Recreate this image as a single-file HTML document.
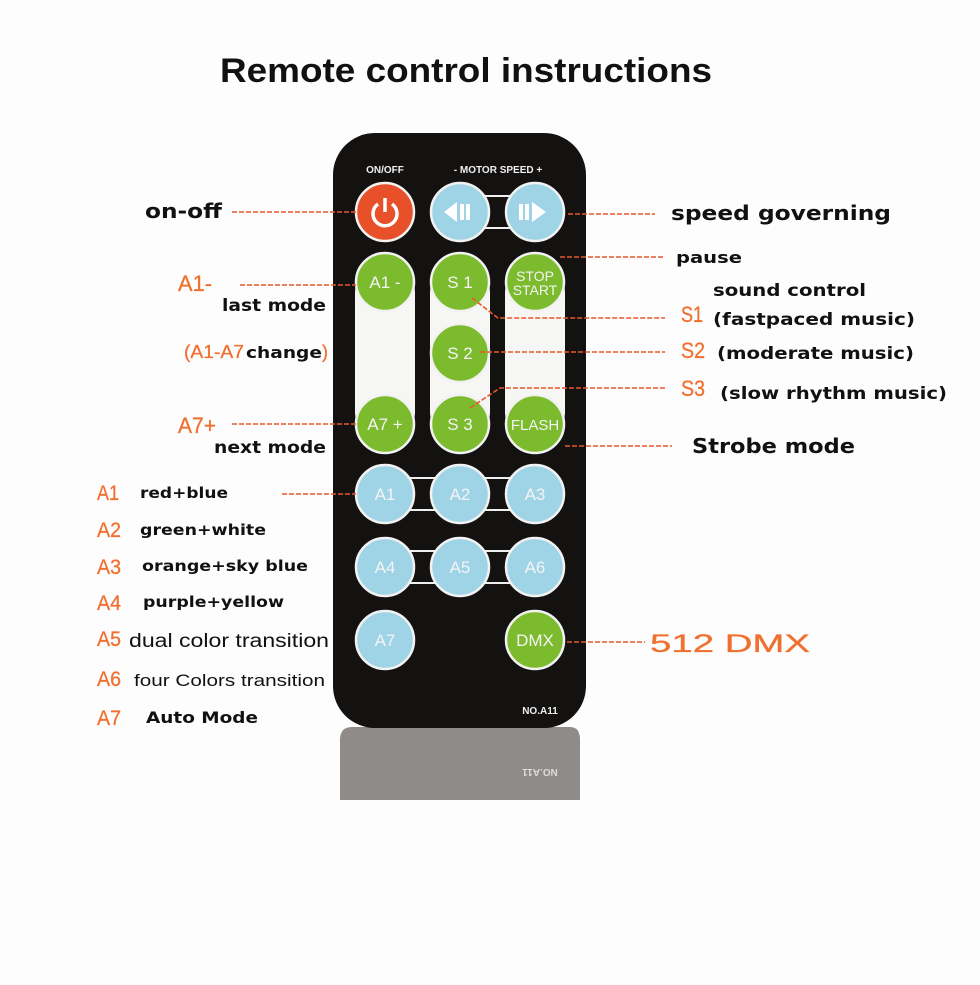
<!DOCTYPE html>
<html><head><meta charset="utf-8"><style>
html,body{margin:0;padding:0;background:#fff;}
svg{display:block}
.b{font-family:"DejaVu Sans","Liberation Sans",sans-serif;font-weight:bold;fill:#111}
.t{font-family:"Liberation Sans",sans-serif;font-weight:bold;fill:#111}
.o{font-family:"Liberation Sans",sans-serif;fill:#f07030;stroke:#f07030;stroke-width:0.3}
.n{font-family:"Liberation Sans",sans-serif;fill:#111}
.w{font-family:"Liberation Sans",sans-serif;fill:#f4f4f4;text-anchor:middle}
.d{stroke:#e8572a;stroke-width:1.6;stroke-dasharray:5 2;fill:none}
</style></head><body>
<svg width="980" height="985" viewBox="0 0 980 985" xmlns="http://www.w3.org/2000/svg">
<rect width="980" height="985" fill="#fdfdfd"/>
<text class="t" x="220" y="82" font-size="34" textLength="492" lengthAdjust="spacingAndGlyphs">Remote control instructions</text>

<path d="M352 727 H570 Q580 727 580 740 V800 H340 V740 Q340 727 352 727Z" fill="#8f8b88"/>
<text x="540" y="775" font-size="10" fill="#ddd" font-family="Liberation Sans" font-weight="bold" transform="rotate(180 540 772)" text-anchor="middle">NO.A11</text>
<rect x="333" y="133" width="253" height="595" rx="42" fill="#141211"/>
<text x="385" y="173" font-size="10" fill="#eee" font-family="Liberation Sans" font-weight="bold" text-anchor="middle">ON/OFF</text>
<text x="498" y="173" font-size="10" fill="#eee" font-family="Liberation Sans" font-weight="bold" text-anchor="middle">- MOTOR SPEED +</text>

<rect x="355" y="270" width="60" height="165" rx="22" fill="#f6f6f4"/>
<rect x="430" y="270" width="60" height="165" rx="22" fill="#f6f6f4"/>
<rect x="505" y="270" width="60" height="165" rx="22" fill="#f6f6f4"/>
<rect x="470" y="196" width="50" height="32" fill="none" stroke="#eee" stroke-width="2"/>
<rect x="400" y="478" width="120" height="32" fill="none" stroke="#eee" stroke-width="2"/>
<rect x="400" y="551" width="120" height="32" fill="none" stroke="#eee" stroke-width="2"/>

<g stroke="#f2f2f2" stroke-width="2.5">
<circle cx="385" cy="212" r="29" fill="#e8502a"/>
<circle cx="460" cy="212" r="29" fill="#9fd3e6"/>
<circle cx="535" cy="212" r="29" fill="#9fd3e6"/>
<circle cx="385" cy="282" r="29" fill="#7cbb2e"/>
<circle cx="460" cy="282" r="29" fill="#7cbb2e"/>
<circle cx="535" cy="282" r="29" fill="#7cbb2e"/>
<circle cx="460" cy="353" r="29" fill="#7cbb2e"/>
<circle cx="385" cy="424" r="29" fill="#7cbb2e"/>
<circle cx="460" cy="424" r="29" fill="#7cbb2e"/>
<circle cx="535" cy="424" r="29" fill="#7cbb2e"/>
<circle cx="385" cy="494" r="29" fill="#9fd3e6"/>
<circle cx="460" cy="494" r="29" fill="#9fd3e6"/>
<circle cx="535" cy="494" r="29" fill="#9fd3e6"/>
<circle cx="385" cy="567" r="29" fill="#9fd3e6"/>
<circle cx="460" cy="567" r="29" fill="#9fd3e6"/>
<circle cx="535" cy="567" r="29" fill="#9fd3e6"/>
<circle cx="385" cy="640" r="29" fill="#9fd3e6"/>
<circle cx="535" cy="640" r="29" fill="#7cbb2e"/>
</g>
<path d="M378 204 A12 12 0 1 0 392 204" stroke="#fff" stroke-width="3.5" fill="none"/>
<line x1="385" y1="198" x2="385" y2="212" stroke="#fff" stroke-width="3.5"/>
<path d="M444 212 L457 202 V222Z" fill="#fff"/><rect x="460" y="204" width="4" height="16" fill="#fff"/><rect x="466" y="204" width="4" height="16" fill="#fff"/>
<rect x="519" y="204" width="4" height="16" fill="#fff"/><rect x="525" y="204" width="4" height="16" fill="#fff"/><path d="M532 202 L546 212 L532 222Z" fill="#fff"/>

<g font-size="17">
<text class="w" x="385" y="288">A1 -</text>
<text class="w" x="460" y="288">S 1</text>
<text class="w" x="535" y="281" font-size="14">STOP</text>
<text class="w" x="535" y="295" font-size="14">START</text>
<text class="w" x="460" y="359">S 2</text>
<text class="w" x="385" y="430">A7 +</text>
<text class="w" x="460" y="430">S 3</text>
<text class="w" x="535" y="430" font-size="15">FLASH</text>
<text class="w" x="385" y="500">A1</text>
<text class="w" x="460" y="500">A2</text>
<text class="w" x="535" y="500">A3</text>
<text class="w" x="385" y="573">A4</text>
<text class="w" x="460" y="573">A5</text>
<text class="w" x="535" y="573">A6</text>
<text class="w" x="385" y="646">A7</text>
<text class="w" x="535" y="646">DMX</text>
</g>
<text x="540" y="714" font-size="10" fill="#eee" font-family="Liberation Sans" font-weight="bold" text-anchor="middle">NO.A11</text>

<line class="d" x1="232" y1="212" x2="356" y2="212"/>
<line class="d" x1="568" y1="214" x2="655" y2="214"/>
<line class="d" x1="560" y1="257" x2="665" y2="257"/>
<polyline class="d" points="472,298 498,318 665,318"/>
<line class="d" x1="480" y1="352" x2="665" y2="352"/>
<polyline class="d" points="470,408 500,388 665,388"/>
<line class="d" x1="565" y1="446" x2="672" y2="446"/>
<line class="d" x1="240" y1="285" x2="356" y2="285"/>
<line class="d" x1="232" y1="424" x2="356" y2="424"/>
<line class="d" x1="282" y1="494" x2="356" y2="494"/>
<line class="d" x1="567" y1="642" x2="645" y2="642"/>

<text class="b" x="145" y="218" font-size="20" textLength="77" lengthAdjust="spacingAndGlyphs">on-off</text>
<text class="b" x="671" y="220" font-size="20" textLength="220" lengthAdjust="spacingAndGlyphs">speed governing</text>
<text class="b" x="676" y="263" font-size="16" textLength="66" lengthAdjust="spacingAndGlyphs">pause</text>
<text class="b" x="713" y="296" font-size="17" textLength="153" lengthAdjust="spacingAndGlyphs">sound control</text>
<text class="o" x="681" y="322" font-size="22" textLength="22" lengthAdjust="spacingAndGlyphs">S1</text>
<text class="b" x="713" y="325" font-size="17" textLength="202" lengthAdjust="spacingAndGlyphs">(fastpaced music)</text>
<text class="o" x="681" y="358" font-size="22" textLength="24" lengthAdjust="spacingAndGlyphs">S2</text>
<text class="b" x="717" y="359" font-size="17" textLength="197" lengthAdjust="spacingAndGlyphs">(moderate music)</text>
<text class="o" x="681" y="396" font-size="22" textLength="24" lengthAdjust="spacingAndGlyphs">S3</text>
<text class="b" x="720" y="399" font-size="17" textLength="227" lengthAdjust="spacingAndGlyphs">(slow rhythm music)</text>
<text class="b" x="692" y="453" font-size="20" textLength="163" lengthAdjust="spacingAndGlyphs">Strobe mode</text>
<text class="o" x="178" y="291" font-size="22" textLength="34" lengthAdjust="spacingAndGlyphs">A1-</text>
<text class="b" x="222" y="311" font-size="17" textLength="104" lengthAdjust="spacingAndGlyphs">last mode</text>
<text class="o" x="184" y="358" font-size="18" textLength="60" lengthAdjust="spacingAndGlyphs">(A1-A7</text>
<text class="b" x="246" y="358" font-size="16" textLength="76" lengthAdjust="spacingAndGlyphs">change</text>
<text class="o" x="322" y="358" font-size="18">)</text>
<text class="o" x="178" y="433" font-size="22" textLength="38" lengthAdjust="spacingAndGlyphs">A7+</text>
<text class="b" x="214" y="453" font-size="17" textLength="112" lengthAdjust="spacingAndGlyphs">next mode</text>

<text class="o" x="97" y="500" font-size="21" textLength="22" lengthAdjust="spacingAndGlyphs">A1</text>
<text class="b" x="140" y="498" font-size="15" textLength="88" lengthAdjust="spacingAndGlyphs">red+blue</text>
<text class="o" x="97" y="537" font-size="21" textLength="24" lengthAdjust="spacingAndGlyphs">A2</text>
<text class="b" x="140" y="535" font-size="15" textLength="126" lengthAdjust="spacingAndGlyphs">green+white</text>
<text class="o" x="97" y="574" font-size="21" textLength="24" lengthAdjust="spacingAndGlyphs">A3</text>
<text class="b" x="142" y="571" font-size="15" textLength="166" lengthAdjust="spacingAndGlyphs">orange+sky blue</text>
<text class="o" x="97" y="610" font-size="21" textLength="24" lengthAdjust="spacingAndGlyphs">A4</text>
<text class="b" x="143" y="607" font-size="15" textLength="141" lengthAdjust="spacingAndGlyphs">purple+yellow</text>
<text class="o" x="97" y="646" font-size="21" textLength="24" lengthAdjust="spacingAndGlyphs">A5</text>
<text class="n" x="129" y="647" font-size="19" textLength="200" lengthAdjust="spacingAndGlyphs">dual color transition</text>
<text class="o" x="97" y="686" font-size="21" textLength="24" lengthAdjust="spacingAndGlyphs">A6</text>
<text class="n" x="134" y="686" font-size="17" textLength="191" lengthAdjust="spacingAndGlyphs">four Colors transition</text>
<text class="o" x="97" y="725" font-size="21" textLength="24" lengthAdjust="spacingAndGlyphs">A7</text>
<text class="b" x="146" y="723" font-size="16" textLength="112" lengthAdjust="spacingAndGlyphs">Auto Mode</text>
<text class="o" x="650" y="652" font-size="25" textLength="160" lengthAdjust="spacingAndGlyphs">512 DMX</text>
</svg>
</body></html>
